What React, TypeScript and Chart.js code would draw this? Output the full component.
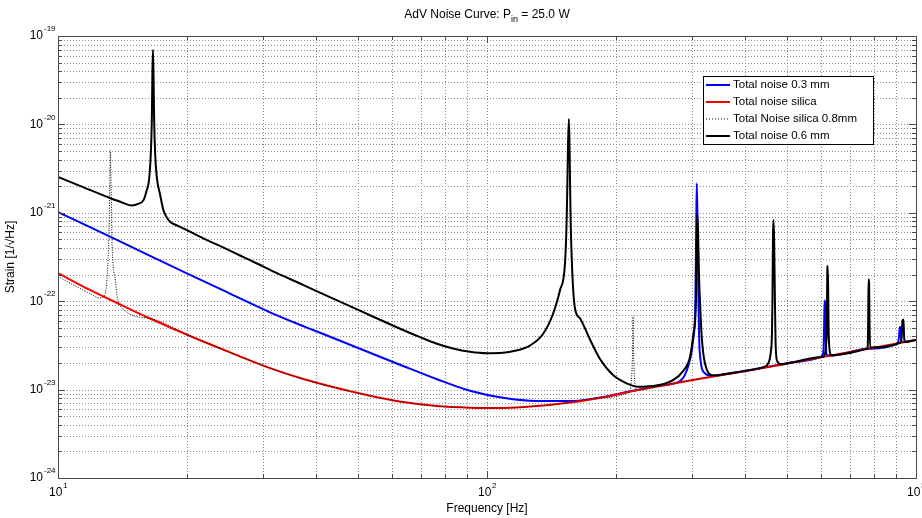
import React, { useEffect, useRef } from "react";
import { Chart, registerables } from "chart.js";

Chart.register(...registerables);

// ---- Data ----
const titleMain = "AdV Noise Curve: P";
const titleSub = "in";
const titleTail = " = 25.0 W";
const xAxisTitle = "Frequency [Hz]";
const yAxisTitle = "Strain [1/\u221AHz]";
const xTickExponents = [1, 2, 3];
const yTickExponents = [-24, -23, -22, -21, -20, -19];
const legendLabels = ["Total noise 0.3 mm", "Total noise silica", "Total Noise silica 0.8mm", "Total noise 0.6 mm"];

const blueFreq = [10, 12.53, 16.39, 20.31, 25.17, 31.2, 37.65, 44.71, 53.36, 63.72, 76.44, 91.26, 108.99, 130.8, 156.1, 183.4, 219.0, 253.1, 281.8, 295, 302, 306, 307.3, 308.3, 309.5, 311, 313, 322, 337, 358.7, 432.8, 508.5, 597.2, 606, 609, 611, 612.5, 614.5, 616, 619, 630, 768.9, 905, 912, 917, 921, 925, 930, 1000];
const blueStrain = [1.02e-21, 6.07e-22, 3.26e-22, 1.99e-22, 1.22e-22, 7.49e-23, 5.13e-23, 3.69e-23, 2.61e-23, 1.85e-23, 1.31e-23, 9.69e-24, 8.07e-24, 7.43e-24, 7.43e-24, 8.14e-24, 9.72e-24, 1.11e-23, 1.25e-23, 1.9e-23, 3.5e-23, 1.0e-22, 6e-22, 2.16e-21, 8e-22, 1.2e-22, 2.8e-23, 1.53e-23, 1.42e-23, 1.49e-23, 1.74e-23, 2.01e-23, 2.32e-23, 2.5e-23, 3e-23, 6e-23, 1.02e-22, 9e-23, 4e-23, 2.5e-23, 2.42e-23, 2.89e-23, 3.35e-23, 3.8e-23, 5.1e-23, 5e-23, 3.5e-23, 3.45e-23, 3.65e-23];

const redFreq = [10, 11.87, 13.73, 16.39, 20.31, 25.17, 31.2, 37.65, 44.71, 53.36, 63.72, 76.44, 91.26, 108.99, 130.8, 156.1, 183.4, 219.0, 253.1, 297.3, 358.7, 432.8, 508.5, 597.2, 768.9, 1000];
const redStrain = [2.08e-22, 1.34e-22, 9.54e-23, 6.37e-23, 4.04e-23, 2.64e-23, 1.75e-23, 1.30e-23, 1.04e-23, 8.51e-24, 7.22e-24, 6.51e-24, 6.24e-24, 6.19e-24, 6.52e-24, 7.15e-24, 8.04e-24, 9.64e-24, 1.10e-23, 1.27e-23, 1.48e-23, 1.73e-23, 2.00e-23, 2.31e-23, 2.88e-23, 3.64e-23];

const dotFreq = [10, 11.87, 12.5, 12.78, 13.0, 13.13, 13.2, 13.24, 13.3, 13.36, 13.6, 13.86, 16.39, 20.31, 25.17, 31.2, 37.65, 44.71, 53.36, 63.72, 76.44, 91.26, 108.99, 130.8, 156.1, 183.4, 214, 217, 218.5, 219, 219.5, 221, 224, 253.1, 297.3, 358.7, 432.8, 508.5, 597.2, 768.9, 1000];
const dotStrain = [1.9e-22, 1.22e-22, 1.09e-22, 1.12e-22, 1.74e-22, 4.9e-22, 1.8e-21, 5.1e-21, 1.8e-21, 4.9e-22, 1.74e-22, 9.3e-23, 6.37e-23, 4.04e-23, 2.64e-23, 1.75e-23, 1.30e-23, 1.04e-23, 8.51e-24, 7.22e-24, 6.51e-24, 6.24e-24, 6.19e-24, 6.52e-24, 7.15e-24, 8.04e-24, 9.35e-24, 1.25e-23, 3e-23, 6.85e-23, 3e-23, 1.25e-23, 9.9e-24, 1.10e-23, 1.27e-23, 1.48e-23, 1.73e-23, 2.00e-23, 2.31e-23, 2.88e-23, 3.64e-23];

const blackFreq = [10, 11.25, 13.22, 14.10, 14.88, 15.37, 15.84, 16.1, 16.3, 16.45, 16.55, 16.6, 16.65, 16.7, 16.75, 16.85, 17.0, 17.3, 17.6, 18.0, 18.27, 18.84, 19.63, 20.86, 22.25, 24.33, 26.56, 29.09, 32.39, 37.24, 44.71, 53.36, 63.72, 69.81, 76.44, 83.32, 91.26, 100, 108.99, 116.2, 125.9, 135.1, 142.5, 148.0, 152.0, 153.5, 154.5, 155.2, 155.8, 156.6, 158, 160.3, 164.8, 173.8, 183.4, 196.7, 212.1, 223.7, 243.8, 271.5, 286.4, 297.3, 303, 307, 308, 309, 310.5, 312, 313.6, 316.6, 322, 337, 358.7, 432.8, 440.5, 453, 458.4, 461.6, 462.8, 464, 465, 467, 468.5, 470.5, 474.6, 486, 508.5, 597.2, 610, 617, 620, 621, 622.5, 624, 625.5, 628, 635, 768.9, 772, 774, 775.5, 777.5, 779, 782, 920, 926, 930, 935, 938, 942, 1000];
const blackStrain = [2.54e-21, 2.02e-21, 1.47e-21, 1.31e-21, 1.21e-21, 1.26e-21, 1.40e-21, 1.8e-21, 2.35e-21, 4.5e-21, 1.2e-20, 4e-20, 6.95e-20, 3.5e-20, 1.2e-20, 4.5e-21, 2.5e-21, 1.6e-21, 1.08e-21, 8.6e-22, 7.87e-22, 7.28e-22, 6.61e-22, 5.73e-22, 4.92e-22, 4.03e-22, 3.29e-22, 2.67e-22, 2.08e-22, 1.53e-22, 1.02e-22, 6.94e-23, 4.72e-23, 3.92e-23, 3.30e-23, 2.92e-23, 2.68e-23, 2.58e-23, 2.61e-23, 2.75e-23, 3.15e-23, 4.26e-23, 7.17e-23, 1.34e-22, 2.70e-22, 1e-21, 6e-21, 1.15e-20, 5e-21, 9e-22, 2.2e-22, 8.38e-23, 6.37e-23, 3.69e-23, 2.22e-23, 1.46e-23, 1.17e-23, 1.08e-23, 1.10e-23, 1.28e-23, 1.62e-23, 2.34e-23, 4.34e-23, 1.03e-22, 4e-22, 9.9e-22, 6e-22, 2e-22, 1.03e-22, 4e-23, 2e-23, 1.45e-23, 1.5e-23, 1.75e-23, 1.8e-23, 2.0e-23, 2.58e-23, 4.34e-23, 1.03e-22, 5e-22, 8.3e-22, 5e-22, 1.5e-22, 3.64e-23, 2.1e-23, 1.93e-23, 2.01e-23, 2.32e-23, 2.38e-23, 3.2e-23, 6e-23, 2e-22, 2.5e-22, 1.5e-22, 5e-23, 3e-23, 2.45e-23, 2.89e-23, 3.2e-23, 8e-23, 1.77e-22, 1.6e-22, 6e-23, 3e-23, 3.4e-23, 4e-23, 6e-23, 6.2e-23, 4e-23, 3.45e-23, 3.65e-23];

const FONT = '"Liberation Sans", Arial, Helvetica, sans-serif';

const toPoints = (fs: number[], vs: number[]) => fs.map((f, i) => ({ x: f, y: vs[i] }));

const decorPlugin = {
  id: "matlabDecor",
  beforeDraw(chart: any) {
    const { ctx, width, height } = chart;
    ctx.save();
    ctx.fillStyle = "#ffffff";
    ctx.fillRect(0, 0, width, height);
    ctx.restore();
  },
  beforeDatasetsDraw(chart: any) {
    const { ctx, chartArea: a, scales } = chart;
    const xs = scales.x;
    const ys = scales.y;
    ctx.save();
    ctx.strokeStyle = "#8c8c8c";
    ctx.lineWidth = 1;
    ctx.setLineDash([1, 2]);
    for (let d = 10; d < 1000; d *= 10) {
      for (let m = 1; m <= 9; m++) {
        const v = d * m;
        if (v <= 10 || v >= 1000) continue;
        const px = Math.round(xs.getPixelForValue(v)) + 0.5;
        ctx.beginPath();
        ctx.moveTo(px, a.top);
        ctx.lineTo(px, a.bottom);
        ctx.stroke();
      }
    }
    for (let e = -24; e < -19; e++) {
      for (let m = 1; m <= 9; m++) {
        if (e === -24 && m === 1) continue;
        const v = m * Math.pow(10, e);
        const py = Math.round(ys.getPixelForValue(v)) + 0.5;
        ctx.beginPath();
        ctx.moveTo(a.left, py);
        ctx.lineTo(a.right, py);
        ctx.stroke();
      }
    }
    ctx.restore();
  },
  afterDraw(chart: any) {
    const { ctx, chartArea: a, scales } = chart;
    const xs = scales.x;
    const ys = scales.y;
    ctx.save();
    // axes box
    ctx.strokeStyle = "#4a4a4a";
    ctx.lineWidth = 1;
    ctx.setLineDash([]);
    ctx.strokeRect(Math.round(a.left) + 0.5, Math.round(a.top) + 0.5, Math.round(a.right - a.left), Math.round(a.bottom - a.top));
    // ticks
    const tick = (x1: number, y1: number, x2: number, y2: number) => {
      ctx.beginPath();
      ctx.moveTo(x1, y1);
      ctx.lineTo(x2, y2);
      ctx.stroke();
    };
    for (let d = 10; d <= 1000; d *= 10) {
      for (let m = 1; m <= 9; m++) {
        const v = d * m;
        if (v < 10 || v > 1000) continue;
        const len = m === 1 ? 7 : 4;
        const px = Math.round(xs.getPixelForValue(v)) + 0.5;
        tick(px, a.bottom, px, a.bottom - len);
        tick(px, a.top, px, a.top + len);
      }
    }
    for (let e = -24; e <= -19; e++) {
      for (let m = 1; m <= 9; m++) {
        if (e === -19 && m > 1) continue;
        const v = m * Math.pow(10, e);
        const len = m === 1 ? 7 : 4;
        const py = Math.round(ys.getPixelForValue(v)) + 0.5;
        tick(a.left, py, a.left + len, py);
        tick(a.right, py, a.right - len, py);
      }
    }
    // tick labels
    ctx.fillStyle = "#000";
    ctx.textBaseline = "middle";
    for (const e of yTickExponents) {
      const py = ys.getPixelForValue(Math.pow(10, e));
      ctx.font = `12px ${FONT}`;
      ctx.textAlign = "right";
      ctx.fillText("10", a.left - 15, py);
      ctx.font = `8px ${FONT}`;
      ctx.textAlign = "left";
      ctx.fillText(String(e), a.left - 14, py - 7);
    }
    for (const e of xTickExponents) {
      const px = xs.getPixelForValue(Math.pow(10, e));
      ctx.font = `12px ${FONT}`;
      const w1 = ctx.measureText("10").width;
      ctx.font = `8px ${FONT}`;
      const w2 = ctx.measureText(String(e)).width;
      const start = px - (w1 + w2) / 2;
      ctx.textAlign = "left";
      ctx.font = `12px ${FONT}`;
      ctx.fillText("10", start, a.bottom + 15);
      ctx.font = `8px ${FONT}`;
      ctx.fillText(String(e), start + w1 + 0.5, a.bottom + 8);
    }
    // axis titles
    const cx = (a.left + a.right) / 2;
    ctx.font = `12px ${FONT}`;
    ctx.textAlign = "center";
    ctx.fillText(xAxisTitle, cx, a.bottom + 31);
    ctx.save();
    ctx.translate(11, (a.top + a.bottom) / 2);
    ctx.rotate(-Math.PI / 2);
    ctx.fillText(yAxisTitle, 0, 0);
    ctx.restore();
    // title with subscript
    ctx.font = `12px ${FONT}`;
    const tw1 = ctx.measureText(titleMain).width;
    const tw3 = ctx.measureText(titleTail).width;
    ctx.font = `9px ${FONT}`;
    const tw2 = ctx.measureText(titleSub).width;
    let tx = cx - (tw1 + tw2 + tw3) / 2;
    const ty = 15;
    ctx.textAlign = "left";
    ctx.font = `12px ${FONT}`;
    ctx.fillText(titleMain, tx, ty);
    tx += tw1;
    ctx.font = `9px ${FONT}`;
    ctx.fillText(titleSub, tx, ty + 5);
    tx += tw2;
    ctx.font = `12px ${FONT}`;
    ctx.fillText(titleTail, tx, ty);
    // legend
    const lx = 703.5, ly = 76.5, lw = 170, lh = 68;
    ctx.fillStyle = "#fff";
    ctx.fillRect(lx, ly, lw, lh);
    ctx.strokeStyle = "#000";
    ctx.lineWidth = 1;
    ctx.strokeRect(lx, ly, lw, lh);
    const styles = [
      { c: "#0000ff", w: 2, dash: [] as number[] },
      { c: "#ff0000", w: 2, dash: [] as number[] },
      { c: "#000000", w: 1, dash: [1, 2] },
      { c: "#000000", w: 2, dash: [] as number[] },
    ];
    legendLabels.forEach((lab, i) => {
      const yy = 85 + i * 17;
      ctx.strokeStyle = styles[i].c;
      ctx.lineWidth = styles[i].w;
      ctx.setLineDash(styles[i].dash);
      ctx.beginPath();
      ctx.moveTo(706, yy);
      ctx.lineTo(730, yy);
      ctx.stroke();
      ctx.setLineDash([]);
      ctx.fillStyle = "#000";
      ctx.font = `11.5px ${FONT}`;
      ctx.textAlign = "left";
      ctx.fillText(lab, 733, yy);
    });
    ctx.restore();
  },
};

export default function App() {
  const ref = useRef<HTMLCanvasElement | null>(null);
  useEffect(() => {
    if (!ref.current) return;
    const common = { pointRadius: 0, fill: false, cubicInterpolationMode: "monotone" };
    const chart = new Chart(ref.current, {
      type: "line",
      data: {
        datasets: [
          { ...common, label: legendLabels[0], data: toPoints(blueFreq, blueStrain), borderColor: "#0000ff", borderWidth: 2, order: 3 },
          { ...common, label: legendLabels[1], data: toPoints(redFreq, redStrain), borderColor: "#ff0000", borderWidth: 2, order: 2 },
          { ...common, label: legendLabels[2], data: toPoints(dotFreq, dotStrain), borderColor: "#000000", borderWidth: 1, borderDash: [1, 1.5], order: 1 },
          { ...common, label: legendLabels[3], data: toPoints(blackFreq, blackStrain), borderColor: "#000000", borderWidth: 2, order: 0 },
        ],
      },
      options: {
        animation: false,
        responsive: false,
        devicePixelRatio: 1,
        layout: { padding: { left: 58, right: 6, top: 36, bottom: 40 } },
        plugins: { legend: { display: false }, title: { display: false }, tooltip: { enabled: false } },
        scales: {
          x: { type: "logarithmic", min: 10, max: 1000, display: false },
          y: { type: "logarithmic", min: 1e-24, max: 1e-19, display: false },
        },
        elements: { line: { borderJoinStyle: "round" }, point: { radius: 0 } },
      },
      plugins: [decorPlugin],
    } as any);
    return () => chart.destroy();
  }, []);
  return (
    <div style={{ position: "fixed", left: 0, top: 0, width: 922, height: 518, background: "#fff" }}>
      <canvas ref={ref} width={922} height={518} style={{ display: "block" }} />
    </div>
  );
}
